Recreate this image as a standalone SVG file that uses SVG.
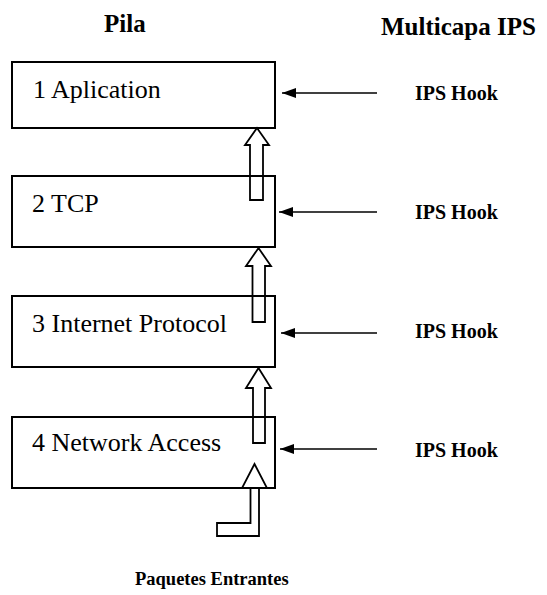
<svg xmlns="http://www.w3.org/2000/svg" width="547" height="595" viewBox="0 0 547 595">
  <defs>
    <marker id="hookHead" markerWidth="14" markerHeight="10" refX="14" refY="5" orient="auto" markerUnits="userSpaceOnUse">
      <path d="M0,0 L14,5 L0,10 Z" fill="#000"/>
    </marker>
  </defs>
  <style>
    .box { fill: #fff; stroke: #000; stroke-width: 2; }
    .flow { fill: none; stroke: #000; stroke-width: 1.8; stroke-linejoin: miter; }
    .hookline { stroke: #000; stroke-width: 1.6; fill: none; }
  </style>
  <rect width="547" height="595" fill="#fff"/>

  <!-- column headings -->
  <text font-family="Liberation Serif, serif" font-weight="bold" font-size="25" x="104" y="32">Pila</text>
  <text font-family="Liberation Serif, serif" font-weight="bold" font-size="25" x="381" y="35">Multicapa IPS</text>

  <!-- protocol stack layers -->
  <g id="layer1">
    <rect class="box" x="12" y="62" width="263" height="66"/>
    <text font-family="Liberation Serif, serif" font-size="26" x="33" y="98">1 Aplication</text>
  </g>
  <g id="layer2">
    <rect class="box" x="12" y="176" width="263" height="71"/>
    <text font-family="Liberation Serif, serif" font-size="26" x="32" y="212">2 TCP</text>
  </g>
  <g id="layer3">
    <rect class="box" x="12" y="296" width="263" height="71"/>
    <text font-family="Liberation Serif, serif" font-size="26" x="32" y="332">3 Internet Protocol</text>
  </g>
  <g id="layer4">
    <rect class="box" x="12" y="417" width="263" height="71"/>
    <text font-family="Liberation Serif, serif" font-size="26" x="32" y="451">4 Network Access</text>
  </g>

  <!-- IPS hook labels -->
  <g id="hook1"><text font-family="Liberation Serif, serif" font-weight="bold" font-size="20" x="415" y="100">IPS Hook</text></g>
  <g id="hook2"><text font-family="Liberation Serif, serif" font-weight="bold" font-size="20" x="415" y="219">IPS Hook</text></g>
  <g id="hook3"><text font-family="Liberation Serif, serif" font-weight="bold" font-size="20" x="415" y="338">IPS Hook</text></g>
  <g id="hook4"><text font-family="Liberation Serif, serif" font-weight="bold" font-size="20" x="415" y="457">IPS Hook</text></g>

  <g id="incoming">
    <text font-family="Liberation Serif, serif" font-weight="bold" font-size="18.5" x="135" y="585">Paquetes Entrantes</text>
  </g>

  <!-- connectors -->
  <g id="connectors">
    <!-- hook arrows pointing at each layer -->
    <line class="hookline" x1="377" y1="93" x2="282" y2="93" marker-end="url(#hookHead)"/>
    <line class="hookline" x1="377" y1="212" x2="279" y2="212" marker-end="url(#hookHead)"/>
    <line class="hookline" x1="377" y1="333" x2="281" y2="333" marker-end="url(#hookHead)"/>
    <line class="hookline" x1="377" y1="449" x2="280" y2="449" marker-end="url(#hookHead)"/>

    <!-- hollow block arrows moving data up the stack -->
    <path class="flow" d="M257,128 L269,145 L263,145 L263,200 L250,200 L250,145 L245,145 Z"/>
    <path class="flow" d="M258.5,248 L271,266 L265,266 L265,322 L252.5,322 L252.5,266 L246,266 Z"/>
    <path class="flow" d="M258.5,368 L271,388 L265,388 L265,443 L253,443 L253,388 L246,388 Z"/>

    <!-- incoming packets elbow arrow -->
    <path class="flow" d="M254.5,464 L267,488 L259,488 L259,536 L217,536 L217,523 L250.5,523 L250.5,488 L242,488 Z"/>
  </g>
</svg>
